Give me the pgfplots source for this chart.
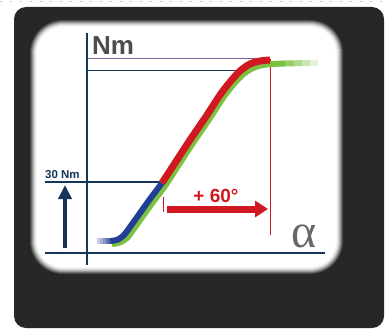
\documentclass[border=0pt]{standalone}
\usepackage{pgfplots}
\pgfplotsset{compat=1.18}
\usepackage{fontspec}
\setmainfont{Liberation Sans}
\newfontfamily\serifgreek{Liberation Serif}
\usetikzlibrary{arrows.meta}
\definecolor{bgdark}{HTML}{262828}
\definecolor{navy}{HTML}{15365A}
\definecolor{myred}{HTML}{D01820}
\definecolor{mygreen}{HTML}{7CC242}
\definecolor{myblue}{HTML}{223F95}
\definecolor{lilac}{HTML}{806090}
\definecolor{txtgray}{HTML}{4D4D4D}
\begin{document}
\begin{tikzpicture}
\begin{axis}[hide axis, scale only axis, width=390pt, height=329pt,
  xmin=0, xmax=390, ymin=0, ymax=329, y dir=reverse, no markers,
  at={(0,0)}, anchor=south west]
% page and dark frame
\fill[white] (axis cs:0,0) rectangle (axis cs:390,329);
\draw[gray!45, line width=1.5pt, dash pattern=on 2pt off 8pt] (axis cs:0,1.5) -- (axis cs:390,1.5);
\fill[bgdark, rounded corners=12pt] (axis cs:14,7) rectangle (axis cs:384,328);
% glowing white panel
\fill[bgdark!100!white, rounded corners=34pt] (axis cs:29,19) rectangle (axis cs:344,275);
\fill[bgdark!85!white, rounded corners=33pt] (axis cs:30,20) rectangle (axis cs:343,274);
\fill[bgdark!68!white, rounded corners=32pt] (axis cs:31,21) rectangle (axis cs:342,273);
\fill[bgdark!50!white, rounded corners=31pt] (axis cs:32,22) rectangle (axis cs:341,272);
\fill[bgdark!34!white, rounded corners=30pt] (axis cs:33,23) rectangle (axis cs:340,271);
\fill[bgdark!20!white, rounded corners=29pt] (axis cs:34,24) rectangle (axis cs:339,270);
\fill[bgdark!10!white, rounded corners=28pt] (axis cs:35,25) rectangle (axis cs:338,269);
\fill[bgdark!4!white, rounded corners=27pt] (axis cs:36,26) rectangle (axis cs:337,268);
\fill[white, rounded corners=26pt] (axis cs:37,27) rectangle (axis cs:336,267);
% guide lines
\addplot[lilac, line width=1pt] coordinates {(87,58.5) (270,58.5)};
\addplot[navy, line width=1pt] coordinates {(87,70.5) (243,70.5)};
\addplot[navy, line width=1.4pt] coordinates {(45,182) (160,182)};
\addplot[myred, line width=1pt] coordinates {(270,59) (270,235)};
\addplot[myred, line width=1pt] coordinates {(163,197) (163,212)};
% axes
\addplot[navy, line width=2.2pt] coordinates {(87,33) (87,265)};
\addplot[navy, line width=2.5pt] coordinates {(45,253) (325,253)};
% green curve
\addplot[mygreen, line width=6pt, smooth] coordinates {(112,244) (120,242.5) (127,238) (133,230) (143,216) (153,202) (165,186) (178,166) (193,143) (210,118) (223,98) (233,85) (243,74.5) (253,68) (263,65) (273,64) (285,63.5)};
\addplot[mygreen, opacity=0.8, line width=6pt] coordinates {(285,63.5) (294,63.3)};
\addplot[mygreen, opacity=0.6, line width=6pt] coordinates {(294,63.3) (302,63.1)};
\addplot[mygreen, opacity=0.4, line width=6pt] coordinates {(302,63.1) (310,62.9)};
\addplot[mygreen, opacity=0.2, line width=6pt] coordinates {(310,62.9) (318,62.7)};
% blue and red curve
\addplot[myblue!25!white, line width=6pt] coordinates {(97,241) (100,241)};
\addplot[myblue!40!white, line width=6pt] coordinates {(100,241) (103,241)};
\addplot[myblue!55!white, line width=6pt] coordinates {(103,241) (106,241)};
\addplot[myblue!72!white, line width=6pt] coordinates {(106,241) (109,241)};
\addplot[myblue!88!white, line width=6pt] coordinates {(109,241) (112,241)};
\addplot[myblue, line width=6pt, smooth] coordinates {(111,241) (118,239.5) (124,235) (130,227) (140,213) (150,199) (162,183)};
\addplot[myred, line width=7pt, smooth] coordinates {(162,183) (175,163) (190,140) (207,115) (220,95) (230,82) (240,71) (250,64) (260,61) (270,60)};
% arrows
\addplot[myred, line width=7pt, -{Triangle[length=13pt,width=16pt]}] coordinates {(167,209) (268,209)};
\addplot[navy, line width=4.5pt, -{Triangle[length=14pt,width=13pt]}] coordinates {(65,248) (65,185)};
% labels
\node[anchor=base west, inner sep=0pt, text=txtgray, font=\fontsize{26}{26}\selectfont\bfseries] at (axis cs:92,55) {Nm};
\node[anchor=base west, inner sep=0pt, text=navy, font=\fontsize{11.5}{12}\selectfont\bfseries] at (axis cs:45,178) {30 Nm};
\node[anchor=base, inner sep=0pt, text=myred, font=\fontsize{19}{19}\selectfont\bfseries] at (axis cs:216,202) {+ 60°};
\node[anchor=base west, inner sep=0pt, text=txtgray!85!white, font=\serifgreek\fontsize{48}{48}\selectfont] at (axis cs:291,247) {α};
\end{axis}
\end{tikzpicture}
\end{document}
